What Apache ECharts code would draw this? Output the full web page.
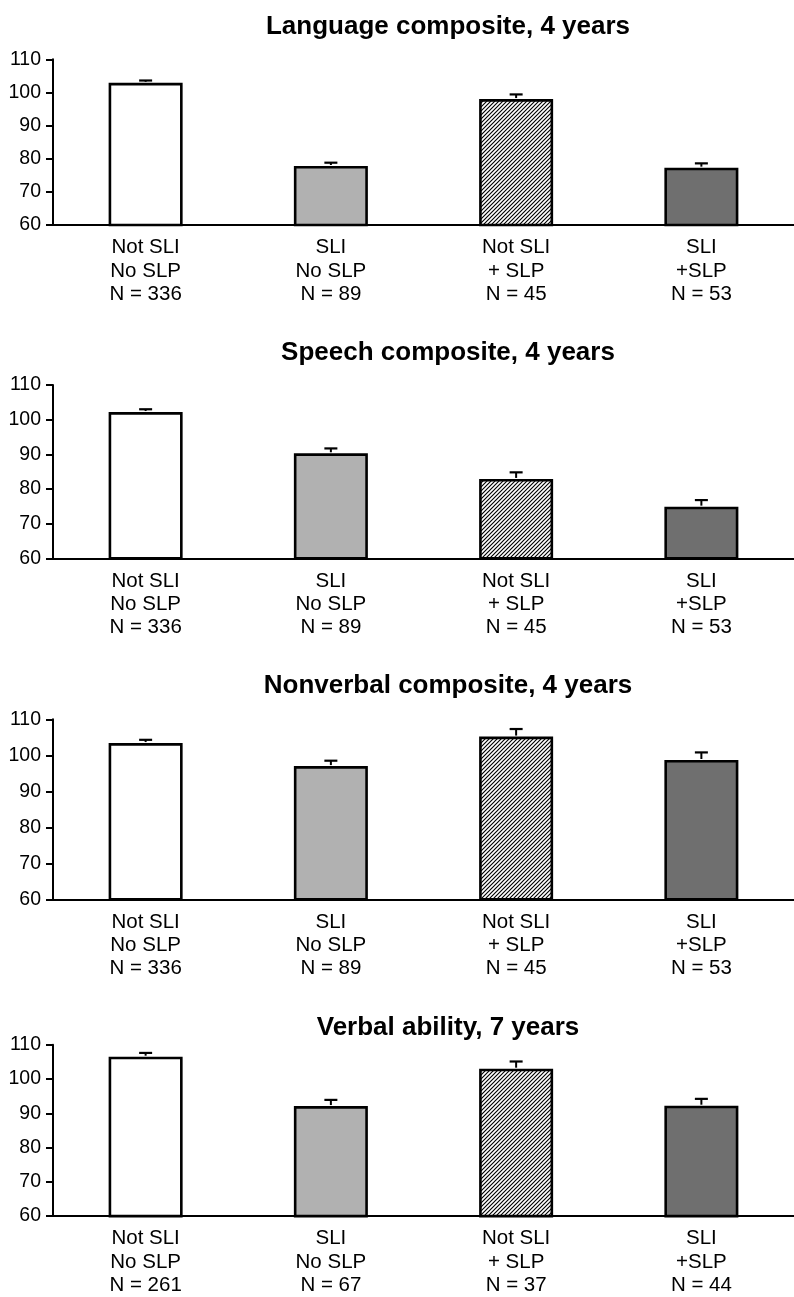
<!DOCTYPE html>
<html>
<head>
<meta charset="utf-8">
<script src="https://cdn.jsdelivr.net/npm/echarts@6/dist/echarts.min.js"></script>
<style>
html,body{margin:0;padding:0;background:#fff;}
#chart{width:794px;height:1297px;}
</style>
</head>
<body>
<div id="chart"></div>
<script>
// ---- data ----
const panelTitles = ['Language composite, 4 years', 'Speech composite, 4 years', 'Nonverbal composite, 4 years', 'Verbal ability, 7 years'];
const groupLabels = ['Not SLI\nNo SLP', 'SLI\nNo SLP', 'Not SLI\n+ SLP', 'SLI\n+SLP'];
const nCounts4yr = [336, 89, 45, 53];
const nCounts7yr = [261, 67, 37, 44];
const languageMeans = [102.9, 77.8, 98.0, 77.3];
const languageUpper = [103.6, 78.8, 99.4, 78.6];
const speechMeans = [102.2, 90.3, 82.9, 74.9];
const speechUpper = [103.0, 91.7, 84.8, 76.8];
const nonverbalMeans = [103.4, 97.0, 105.2, 98.7];
const nonverbalUpper = [104.3, 98.5, 107.3, 100.8];
const verbalMeans = [106.5, 92.1, 103.0, 92.2];
const verbalUpper = [107.6, 93.9, 105.1, 94.2];
const yTicks = [60, 70, 80, 90, 100, 110];

// ---- styles / layout ----
const hatch = document.createElement('canvas');
hatch.width = 4; hatch.height = 4;
(function () {
  const c = hatch.getContext('2d');
  c.fillStyle = '#fff'; c.fillRect(0, 0, 4, 4);
  c.strokeStyle = '#000'; c.lineWidth = 1.15;
  c.beginPath();
  c.moveTo(-1, 5); c.lineTo(5, -1);
  c.moveTo(-1, 1); c.lineTo(1, -1);
  c.moveTo(3, 5); c.lineTo(5, 3);
  c.stroke();
})();
const fills = ['#ffffff', '#b1b1b1', { image: hatch, repeat: 'repeat' }, '#6f6f6f'];

const panels = [
  { title: panelTitles[0], means: languageMeans, upper: languageUpper, n: nCounts4yr, top: 59.3, height: 165.7, titleY: 24 },
  { title: panelTitles[1], means: speechMeans, upper: speechUpper, n: nCounts4yr, top: 385, height: 173.3, titleY: 349.5 },
  { title: panelTitles[2], means: nonverbalMeans, upper: nonverbalUpper, n: nCounts4yr, top: 719.3, height: 180, titleY: 683 },
  { title: panelTitles[3], means: verbalMeans, upper: verbalUpper, n: nCounts7yr, top: 1044.7, height: 174.6, titleY: 1025 }
];

const FONT = '"Liberation Sans", Arial, sans-serif';
const option = {
  animation: false,
  backgroundColor: '#fff',
  title: [], grid: [], xAxis: [], yAxis: [], series: []
};

panels.forEach((p, i) => {
  option.title.push({
    text: p.title, left: 443, top: p.titleY - 15, textAlign: 'center',
    textStyle: { fontFamily: FONT, fontWeight: 'bold', fontSize: 26, color: '#000' }
  });
  option.grid.push({ left: 53, width: 750, top: p.top, height: p.height });
  option.xAxis.push({
    type: 'category', gridIndex: i,
    data: groupLabels.map((g, k) => g + '\nN = ' + p.n[k]),
    axisLine: { lineStyle: { color: '#000', width: 2 } },
    axisTick: { show: false },
    axisLabel: { color: '#000', fontFamily: FONT, fontSize: 20.5, lineHeight: 23.3, margin: 11, interval: 0 }
  });
  option.yAxis.push({
    type: 'value', gridIndex: i, min: yTicks[0], max: yTicks[yTicks.length - 1], interval: 10,
    axisLine: { show: true, lineStyle: { color: '#000', width: 2 } },
    axisTick: { show: true, length: 7, lineStyle: { color: '#000', width: 2 } },
    axisLabel: { color: '#000', fontFamily: FONT, fontSize: 19.5, margin: 12 },
    splitLine: { show: false }
  });
  option.series.push({
    type: 'bar', xAxisIndex: i, yAxisIndex: i, barWidth: 74, z: 1,
    data: p.means.map((v, k) => ({ value: v, itemStyle: { color: fills[k] } })),
    itemStyle: { borderColor: '#000', borderWidth: 2.6 }
  });
  option.series.push({
    type: 'custom', xAxisIndex: i, yAxisIndex: i, z: 3,
    data: p.means.map((v, k) => [k, v, p.upper[k]]),
    renderItem: function (params, api) {
      const x = api.value(0);
      const a = api.coord([x, api.value(1)]);
      const b = api.coord([x, api.value(2)]);
      const hw = 6.5;
      return {
        type: 'group',
        children: [
          { type: 'line', shape: { x1: a[0], y1: a[1] - 1, x2: b[0], y2: b[1] }, style: { stroke: '#000', lineWidth: 2 } },
          { type: 'line', shape: { x1: b[0] - hw, y1: b[1], x2: b[0] + hw, y2: b[1] }, style: { stroke: '#000', lineWidth: 2.2 } }
        ]
      };
    }
  });
});

const chart = echarts.init(document.getElementById('chart'), null, { renderer: 'canvas' });
chart.setOption(option);
</script>
</body>
</html>
